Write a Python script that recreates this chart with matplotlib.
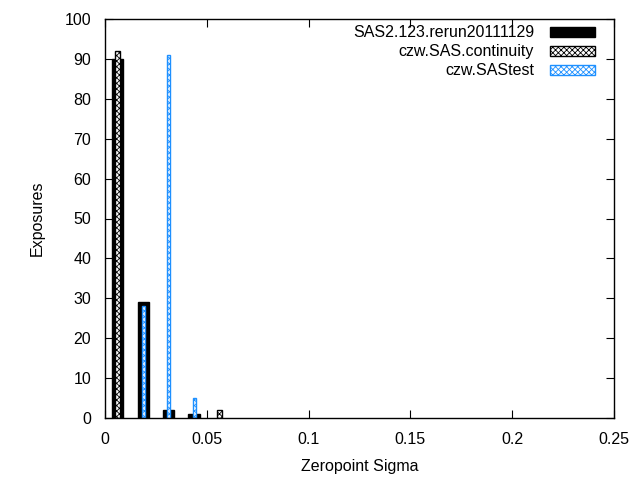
import matplotlib
matplotlib.use("Agg")
import matplotlib.pyplot as plt

plt.rcParams['font.family'] = ['Liberation Sans', 'DejaVu Sans']
plt.rcParams['hatch.linewidth'] = 0.6

# bin centres and counts per run
rerun_x = [0.00625, 0.01875, 0.03125, 0.04375]
rerun_n = [90, 29, 2, 1]
continuity_x = [0.00625, 0.05625]
continuity_n = [92, 2]
sastest_x = [0.01875, 0.03125, 0.04375]
sastest_n = [28, 91, 5]

fig = plt.figure(figsize=(6.4, 4.8), dpi=100)
ax = fig.add_axes([105 / 640, 62 / 480, 509 / 640, 399 / 480])

ax.bar(rerun_x, rerun_n, width=0.0055, color='black', edgecolor='black',
       linewidth=1, label='SAS2.123.rerun20111129')
ax.bar(continuity_x, continuity_n, width=0.0025, color='white', edgecolor='black',
       hatch='xxxxxx', linewidth=1, label='czw.SAS.continuity')
ax.bar(sastest_x, sastest_n, width=0.0015, color='white', edgecolor='#1e90ff',
       hatch='xxxxxx', linewidth=1, label='czw.SAStest')

ax.set_xlim(0, 0.25)
ax.set_ylim(0, 100)
ax.set_xticks([0, 0.05, 0.1, 0.15, 0.2, 0.25])
ax.set_xticklabels(['0', '0.05', '0.1', '0.15', '0.2', '0.25'])
ax.set_yticks(range(0, 101, 10))
ax.tick_params(direction='in', top=True, right=True, length=6, labelsize=11.5)
ax.tick_params(axis='x', pad=10)
ax.tick_params(axis='y', pad=10)
for s in ax.spines.values():
    s.set_linewidth(1)

ax.set_xlabel('Zeropoint Sigma', fontsize=11.5, labelpad=9)
ax.set_ylabel('Exposures', fontsize=11.5, labelpad=14)

ax.legend(loc='upper right', frameon=False, markerfirst=False, fontsize=11.5,
          handlelength=2.8, handleheight=0.55, labelspacing=0.25,
          borderaxespad=0.1, handletextpad=1.0, borderpad=0.3,
          bbox_to_anchor=(0.975, 1.0))

fig.savefig('out.png', dpi=100)
